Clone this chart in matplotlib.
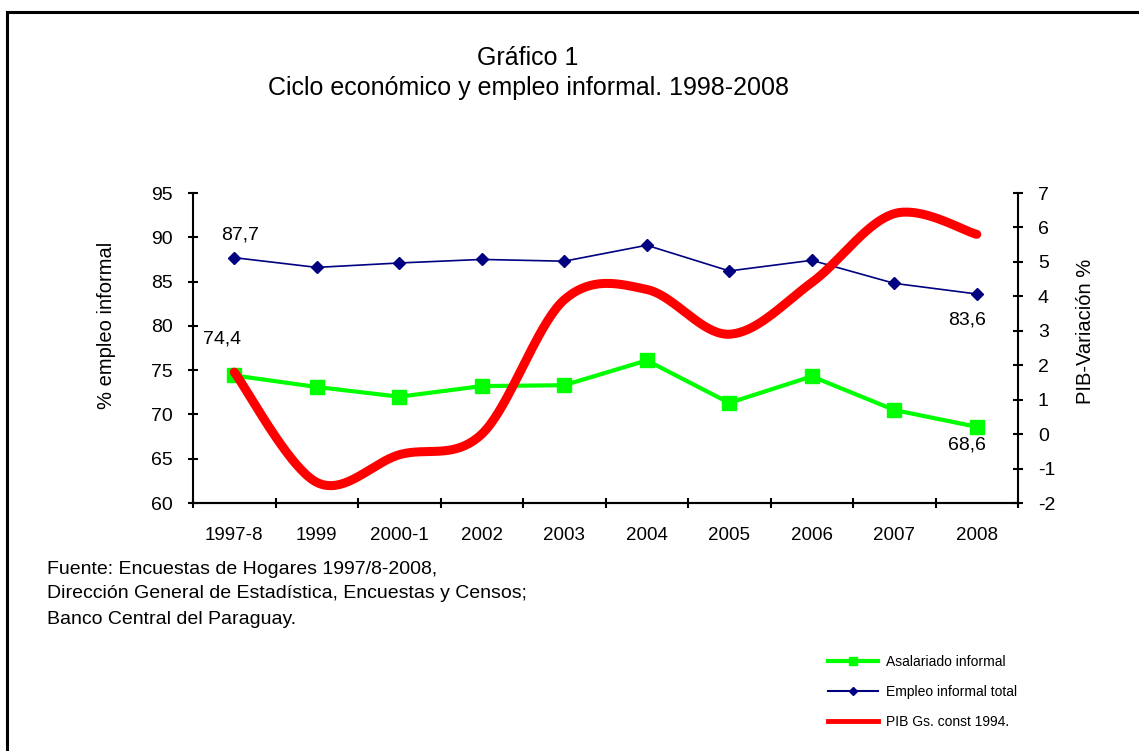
import numpy as np
import matplotlib.pyplot as plt
from matplotlib.lines import Line2D

plt.rcParams['font.family'] = ['Liberation Sans', 'DejaVu Sans']
plt.rcParams['axes.unicode_minus'] = False

categorias = ['1997-8', '1999', '2000-1', '2002', '2003', '2004', '2005', '2006', '2007', '2008']
asalariado = [74.4, 73.1, 72.0, 73.2, 73.3, 76.1, 71.3, 74.3, 70.5, 68.6]
empleo_total = [87.7, 86.6, 87.1, 87.5, 87.3, 89.1, 86.2, 87.4, 84.8, 83.6]
pib = [1.8, -1.4, -0.6, 0.0, 3.9, 4.2, 2.9, 4.4, 6.4, 5.8]


def excel_smooth(y, n=40):
    # bezier de tipo catmull-rom, como la linea suavizada de Excel
    y = np.asarray(y, dtype=float)
    x = np.arange(len(y), dtype=float)
    pts = np.column_stack([x, y])
    out = []
    for i in range(len(pts) - 1):
        p0 = pts[i]
        p3 = pts[i + 1]
        pm = pts[i - 1] if i > 0 else pts[i]
        pp = pts[i + 2] if i + 2 < len(pts) else pts[i + 1]
        p1 = p0 + (p3 - pm) / 6
        p2 = p3 - (pp - p0) / 6
        t = np.linspace(0, 1, n)[:, None]
        seg = (1 - t) ** 3 * p0 + 3 * (1 - t) ** 2 * t * p1 + 3 * (1 - t) * t ** 2 * p2 + t ** 3 * p3
        out.append(seg if i == 0 else seg[1:])
    out = np.vstack(out)
    return out[:, 0], out[:, 1]


W, H = 1139, 751
fig = plt.figure(figsize=(W / 100, H / 100), dpi=100)
ax = fig.add_axes([193 / W, 1 - 503 / H, (1018 - 193) / W, (503 - 193) / H])
ax2 = ax.twinx()

x = np.arange(len(categorias))
ax.plot(x, asalariado, color='#00ff00', lw=3, marker='s', ms=10, zorder=3)
ax.plot(x, empleo_total, color='#000080', lw=1.2, marker='D', ms=6.5, zorder=4)
xs, ys = excel_smooth(pib)
ax2.plot(xs, ys, color='#ff0000', lw=6.5, solid_capstyle='round')

ax.set_xlim(-0.5, len(categorias) - 0.5)
ax.set_ylim(60, 95)
ax.set_yticks(np.arange(60, 96, 5))
ax2.set_ylim(-2, 7)
ax2.set_yticks(np.arange(-2, 8, 1))

ax.set_xticks(np.arange(-0.5, len(categorias), 1))
ax.set_xticklabels([])
ax.set_xticks(x, minor=True)
ax.set_xticklabels(categorias, minor=True)
ax.tick_params(axis='x', which='major', direction='inout', length=6.5, width=1.5)
ax.tick_params(axis='x', which='minor', length=0, pad=17, labelsize=13.5)
ax.tick_params(axis='y', direction='inout', length=6.5, width=1.5, pad=11, labelsize=14)
ax2.tick_params(axis='y', direction='inout', length=6.5, width=1.5, pad=11, labelsize=14)

for a in (ax, ax2):
    a.spines['top'].set_visible(False)
    for s in ('left', 'right', 'bottom'):
        a.spines[s].set_linewidth(1.5)
ax.spines['right'].set_visible(False)
ax2.spines['left'].set_visible(False)

ax.set_ylabel('% empleo informal', fontsize=14.5)
ax.yaxis.set_label_coords(-0.093, 0.574)
ax2.set_ylabel('PIB-Variación %', fontsize=14.5, rotation=90)
ax2.yaxis.set_label_coords(1.070, 0.555)

fmt = lambda v: f'{v:.1f}'.replace('.', ',')
ax.annotate(fmt(empleo_total[0]), (x[0], empleo_total[0]), xytext=(4.5, 16.5),
            textcoords='offset points', ha='center', va='center', fontsize=14)
ax.annotate(fmt(asalariado[0]), (x[0], asalariado[0]), xytext=(-8.6, 26),
            textcoords='offset points', ha='center', va='center', fontsize=14)
ax.annotate(fmt(empleo_total[-1]), (x[-1], empleo_total[-1]), xytext=(-7.2, -18.7),
            textcoords='offset points', ha='center', va='center', fontsize=14)
ax.annotate(fmt(asalariado[-1]), (x[-1], asalariado[-1]), xytext=(-7, -13.3),
            textcoords='offset points', ha='center', va='center', fontsize=14)

fig.text(528 / W, 1 - 58 / H, 'Gráfico 1', ha='center', va='center', fontsize=18)
fig.text(528 / W, 1 - 88 / H, 'Ciclo económico y empleo informal. 1998-2008',
         ha='center', va='center', fontsize=18)

fuente = ['Fuente: Encuestas de Hogares 1997/8-2008,',
          'Dirección General de Estadística, Encuestas y Censos;',
          'Banco Central del Paraguay.']
for txt, yy in zip(fuente, [570, 594, 620]):
    fig.text(47 / W, 1 - yy / H, txt, ha='left', va='center', fontsize=14)

handles = [Line2D([], [], color='#00ff00', lw=3, marker='s', ms=6),
           Line2D([], [], color='#000080', lw=1.5, marker='D', ms=4.5),
           Line2D([], [], color='#ff0000', lw=3.5)]
labels = ['Asalariado informal', 'Empleo informal total', 'PIB Gs. const 1994.']
fig.legend(handles, labels, loc='upper left', bbox_to_anchor=(828 / W, 1 - 655 / H),
           frameon=False, fontsize=10, handlelength=3.6, handletextpad=0.6,
           labelspacing=1.15, borderpad=0, borderaxespad=0, numpoints=1)

# borde del grafico
fig.add_artist(Line2D([7 / W, 7 / W], [0, 1 - 12 / H], color='black', lw=2.2))
fig.add_artist(Line2D([7 / W, 1], [1 - 12 / H, 1 - 12 / H], color='black', lw=2.2))

fig.savefig('out.png', dpi=100)
